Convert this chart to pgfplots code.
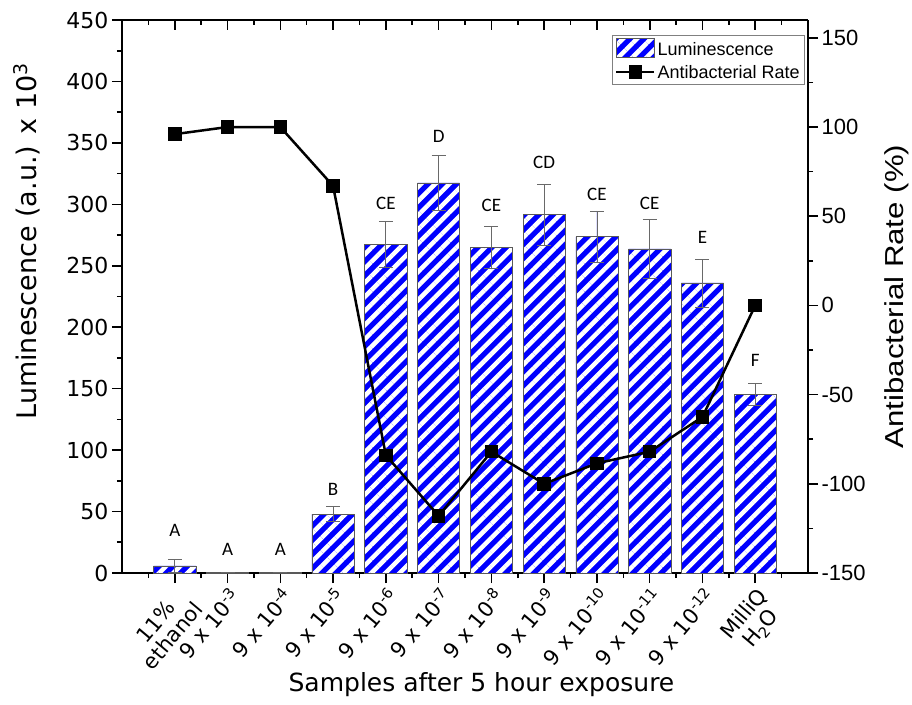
\documentclass[border=0pt]{standalone}
\usepackage{pgfplots}
\pgfplotsset{compat=1.18}
\usepackage{pgfplotstable}
\usepackage{fontspec}
\setmainfont{DejaVu Sans}
\newfontfamily\arialfont{Liberation Sans}
\newfontfamily\calfont{Carlito}
\usetikzlibrary{patterns.meta}
\definecolor{lumblue}{RGB}{0,0,255}
\definecolor{errgray}{RGB}{105,105,105}

\pgfplotstableread{
x y err
1 5.7 5.5
2 0.6 0
3 0.6 0
4 48 6
5 267.5 18.5
6 317.5 22.5
7 264.7 17
8 291.5 25
9 273.6 21
10 263.8 23.7
11 236 19.5
12 145.5 9
}\lumdata

\pgfplotstableread{
x y label
1 35 A
2 19 A
3 19 A
4 68 B
5 301 CE
6 355 D
7 299 CE
8 334 CD
9 308 CE
10 301 CE
11 273 E
12 173 F
}\letterdata

\pgfplotstableread{
x y
1 96
2 100
3 100
4 67
5 -84
6 -118
7 -82
8 -100
9 -88.5
10 -82
11 -62.5
12 0
}\ratedata

\pgfplotsset{
  lumbar/.style={fill=lumblue, draw=gray!70!black, line width=0.6pt,
    postaction={pattern={Lines[angle=45,distance=10pt,line width=4.5pt]}, pattern color=white}},
  barlegend/.style={legend image code/.code={\draw[##1] (0pt,-8pt) rectangle (38pt,11pt);}},
  linelegend/.style={legend image code/.code={\draw[mark repeat=2, mark phase=2, ##1] plot coordinates {(0pt,0pt) (19pt,0pt) (38pt,0pt)};}},
  common/.style={
    scale only axis, width=686pt, height=553pt,
    xmin=0, xmax=13,
    axis line style={line width=1.6pt, -},
    every tick/.style={black, line width=1.6pt},
    major tick length=10pt, minor tick length=5pt,
    xtick={1,...,12}, minor xtick={0.5,1.5,...,12.5},
    /pgf/number format/assume math mode=true,
  }
}

\begin{document}
\begin{tikzpicture}
\begin{axis}[common,
  ymin=0, ymax=450,
  axis x line*=bottom, axis y line*=left,
  tick align=outside,
  xticklabels={{11\%\\ethanol}, 9 x 10\textsuperscript{-3}, 9 x 10\textsuperscript{-4}, 9 x 10\textsuperscript{-5}, 9 x 10\textsuperscript{-6}, 9 x 10\textsuperscript{-7}, 9 x 10\textsuperscript{-8}, 9 x 10\textsuperscript{-9}, 9 x 10\textsuperscript{-10}, 9 x 10\textsuperscript{-11}, 9 x 10\textsuperscript{-12}, {MilliQ\\H\textsubscript{2}O}},
  xticklabel style={rotate=50, anchor=north east, align=center, inner sep=2pt, font=\fontsize{21}{22}\selectfont},
  ytick={0,50,...,450}, minor ytick={25,75,...,425},
  yticklabel style={font=\fontsize{22}{24}\selectfont},
  xlabel={Samples after 5 hour exposure},
  ylabel={Luminescence (a.u.) x 10\textsuperscript{3}},
  every axis x label/.style={at={(axis description cs:0.524,0)}, anchor=center, yshift=-112pt, font=\fontsize{25}{27}\selectfont},
  every axis y label/.style={at={(axis description cs:0,0.6)}, xshift=-95pt, rotate=90, anchor=center, font=\fontsize{27}{29}\selectfont},
]
\addplot[ybar, bar width=0.8, lumbar,
  error bars/.cd, y dir=both, y explicit,
  error bar style={line width=0.8pt, draw=errgray},
  error mark options={rotate=90, mark size=7pt, line width=0.8pt, draw=errgray}]
  table[x=x, y=y, y error=err]{\lumdata};
\addplot[draw=none, mark=none, nodes near coords, point meta=explicit symbolic,
  nodes near coords style={anchor=center, text=black, font=\calfont\fontsize{19}{21}\selectfont}]
  table[x=x, y=y, meta=label]{\letterdata};
\end{axis}
\begin{axis}[common,
  ymin=-150, ymax=160,
  axis x line*=top, axis y line*=right,
  xtick align=inside, ytick align=outside,
  xticklabels={},
  ytick={-150,-100,...,150}, minor ytick={-125,-75,...,125},
  yticklabel style={font=\arialfont\fontsize{22}{24}\selectfont},
  ylabel={Antibacterial Rate (\%)},
  every axis y label/.style={at={(axis description cs:1,0.5)}, xshift=89pt, rotate=90, xscale=1.2, anchor=center, font=\arialfont\fontsize{26}{28}\selectfont},
  legend style={at={(1,1)}, anchor=north east, xshift=-3pt, yshift=-15pt,
    font=\arialfont\fontsize{18}{20}\selectfont, draw=gray, line width=0.8pt,
    inner sep=3pt, row sep=4pt},
  legend cell align=left,
]
\addlegendimage{lumbar, barlegend}
\addlegendentry{Luminescence}
\addplot[black, line width=2.5pt, mark=square*, mark size=5.5pt, linelegend]
  table[x=x, y=y]{\ratedata};
\addlegendentry{Antibacterial Rate}
\end{axis}
\pgfresetboundingbox
\path[use as bounding box] ([xshift=-122pt,yshift=-131pt]current axis.south west) rectangle ([xshift=104pt,yshift=20pt]current axis.north east);
\end{tikzpicture}
\end{document}
